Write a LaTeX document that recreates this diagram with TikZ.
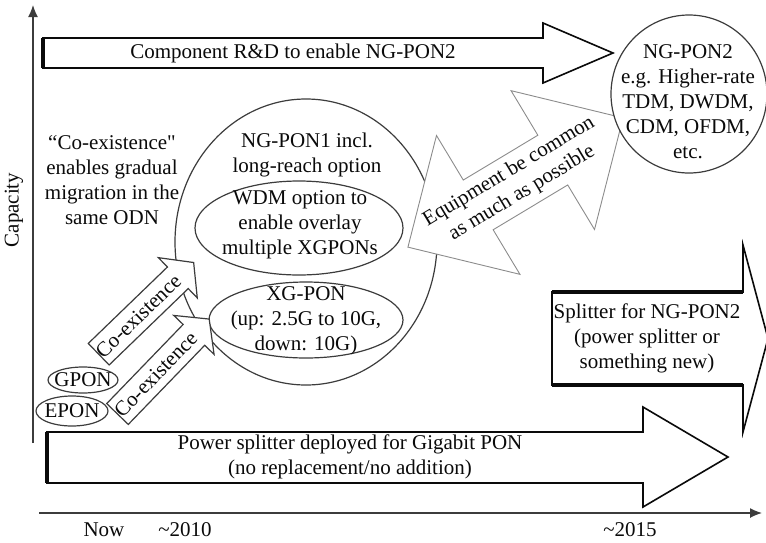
\documentclass[tikz,border=0pt]{standalone}
\usepackage{fontspec}
\setmainfont{Liberation Serif}
\usetikzlibrary{arrows.meta,shapes.geometric}
\definecolor{ink}{HTML}{0A0A0A}
\definecolor{pen}{HTML}{3C3C3C}
\definecolor{faint}{HTML}{8C8C8C}
\begin{document}
\begin{tikzpicture}[x=1pt,y=-1pt,
  every node/.style={inner sep=0pt, outer sep=0pt},
  lbl/.style={font=\fontsize{21}{25}\selectfont, align=center, text=ink},
  axisline/.style={draw=pen, line width=1.3pt, -{Latex[length=12pt,width=10pt]}},
  blockarrow/.style={draw=ink, line width=1.6pt, fill=white, line join=miter},
  heavyedge/.style={draw=ink, line width=4pt},
  ring/.style={ellipse, draw=pen, line width=1.2pt, fill=white},
  coarrow/.style={draw=pen, line width=1.2pt, fill=white, line join=miter},
  eqarrow/.style={draw=faint, line width=0.9pt, fill=white, line join=miter}]
\useasboundingbox (0,0) rectangle (766,542);

% axes
\coordinate (yfoot) at (33,443);
\coordinate (ytop) at (33,5);
\coordinate (xfoot) at (39,513);
\coordinate (xend) at (762,513);
\draw[axisline] (yfoot) -- (ytop);
\draw[axisline] (xfoot) -- (xend);
\node[lbl, rotate=90] (cap) at (14,210) {Capacity};
\node[lbl] (tnow) at (104,530) {Now};
\node[lbl] (t2010) at (185,530) {\textasciitilde2010};
\node[lbl] (t2015) at (630,530) {\textasciitilde2015};

% component R&D arrow
\draw[blockarrow] (43,38) -- (543,38) -- (543,23) -- (613,53) -- (543,83) -- (543,68) -- (43,68) -- cycle;
\draw[heavyedge] (43,38) -- (43,68);
\node[lbl] (rnd) at (293,53) {Component R\&D to enable NG-PON2};

% splitter arrow
\draw[blockarrow] (552,292) -- (743,292) -- (743,245) -- (768,338.5) -- (743,432) -- (743,385) -- (552,385) -- cycle;
\draw[heavyedge] (552,292) -- (743,292);
\draw[heavyedge] (552,385) -- (743,385);
\node[lbl] (split) at (647,338) {Splitter for NG-PON2\\(power splitter or\\something new)};

% power splitter arrow
\draw[blockarrow] (47,432) -- (643,432) -- (643,407) -- (728,457) -- (643,507) -- (643,483) -- (47,483) -- cycle;
\draw[heavyedge] (47,432) -- (47,483);
\node[lbl] (power) at (350,457) {Power splitter deployed for Gigabit PON\\(no replacement/no addition)};

% NG-PON1 family
\node[ring, minimum width=262pt, minimum height=286pt] (ngpon1) at (306,242) {};
\node[ring, minimum width=208pt, minimum height=94pt] (wdm) at (299,228) {};
\node[ring, minimum width=194pt, minimum height=76pt] (xgpon) at (306,320) {};
\node[lbl] (ngpon1txt) at (307,155) {NG-PON1 incl.\\long-reach option};
\node[lbl] (wdmtxt) at (300,225) {WDM option to\\enable overlay\\multiple XGPONs};
\node[lbl] (xgtxt) at (306,321) {XG-PON\\(up: 2.5G to 10G,\\down: 10G)};

% co-existence arrows
\foreach \name/\tx/\ty/\ang in {coA/98.7/354.2/44, coB/117.5/414/46} {
  \begin{scope}[shift={(\tx,\ty)}, rotate=\ang]
    \draw[coarrow] (0,-15) -- (110,-15) -- (110,-28) -- (132,0) -- (110,28) -- (110,15) -- (0,15) -- cycle;
    \node[lbl, rotate=\ang] (\name) at (55,0) {Co-existence};
  \end{scope}
}
\node[ring, minimum width=70pt, minimum height=26pt] (gpon) at (83,380) {};
\node[lbl] (gpontxt) at (83,380) {GPON};
\node[ring, minimum width=72pt, minimum height=30pt] (epon) at (72,411) {};
\node[lbl] (epontxt) at (72,411) {EPON};
\node[lbl] (coex) at (112,180) {“Co-existence\textquotedbl\\enables gradual\\migration in the\\same ODN};

% equipment double arrow
\begin{scope}[shift={(515.5,182.5)}, rotate=31]
  \draw[eqarrow] (-125.5,0) -- (-43.5,-81) -- (-43.5,-29) -- (43.5,-29) -- (43.5,-81) -- (125.5,0)
    -- (43.5,81) -- (43.5,29) -- (-43.5,29) -- (-43.5,81) -- cycle;
  \node[lbl, rotate=31] (equip) at (0,0) {Equipment be common\\as much as possible};
\end{scope}

% NG-PON2
\node[ring, minimum width=156pt, minimum height=158pt] (ngpon2) at (689,94) {};
\node[lbl] (ngpon2txt) at (688,102) {NG-PON2\\e.g. Higher-rate\\TDM, DWDM,\\CDM, OFDM,\\etc.};
\end{tikzpicture}
\end{document}
